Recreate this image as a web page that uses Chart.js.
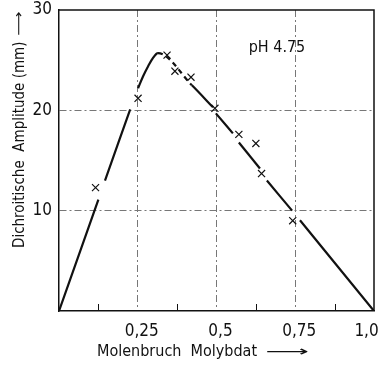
<!DOCTYPE html>
<html>
<head>
<meta charset="utf-8">
<script src="https://cdn.jsdelivr.net/npm/chart.js@4.4.1/dist/chart.umd.min.js"></script>
<style>
  html, body { margin: 0; padding: 0; background: #fff; }
  #wrap { width: 388px; height: 368px; }
</style>
</head>
<body>
<div id="wrap"><canvas id="c" width="388" height="368"></canvas></div>
<script>
// Measured points: mole fraction of molybdate vs. dichroic amplitude (mm)
const markerX = [0.116, 0.251, 0.343, 0.368, 0.419, 0.495, 0.571, 0.625, 0.643, 0.742];
const markerY = [12.3, 21.2, 25.5, 23.9, 23.3, 20.2, 17.6, 16.7, 13.7, 9.0];

// Drawn curve; a null value leaves a small break in the line beside a marker
const curveX = [0, 0.125, 0.135, 0.146, 0.226, 0.238, 0.251, 0.267, 0.283, 0.298, 0.314, 0.422, 0.489, 0.494, 0.498, 0.552, 0.561, 0.571, 0.638, 0.649, 0.660, 0.740, 0.752, 0.765, 1.0];
const curveY = [0, 11.1, null, 13.0, 20.1, null, 22.2, 23.4, 24.4, 25.2, 25.7, 22.5, 20.3, null, 19.7, 17.7, null, 16.8, 14.2, null, 13.0, 10.0, null, 9.05, 0];

// Axis ticks
const xTicks = [0.25, 0.5, 0.75, 1.0];
const xTickLabels = ['0,25', '0,5', '0,75', '1,0\u2002\u2002\u2002'];
const xMinorTicks = [0.125, 0.375, 0.625, 0.875];
const yTicks = [10, 20, 30];
const yTickLabels = ['10', '20', '30'];

const xTitle = 'Molenbruch  Molybdat';
const yTitle = 'Dichroitische  Amplitude (mm)';
const ARROW = '\u27F6';
const noteText = 'pH 4.75';

// style
const FONT = "'Liberation Sans Narrow', 'DejaVu Sans Condensed', 'Roboto Condensed', 'Liberation Sans', sans-serif";
const INK = '#111';
const GRID = '#777';
const dashedRange = [0.31, 0.43];

const curveData = curveX.map((x, i) => ({ x: x, y: curveY[i] }));
const markerData = markerX.map((x, i) => ({ x: x, y: markerY[i] }));

// text followed by a long, thin arrow
function titleWithArrow(ctx, text, size, gap, stretch) {
  ctx.font = size + 'px ' + FONT;
  ctx.textAlign = 'left';
  ctx.textBaseline = 'middle';
  ctx.fillText(text, 0, 0);
  const w = ctx.measureText(text).width;
  ctx.save();
  ctx.translate(w + gap, 0);
  ctx.scale(stretch, 1);
  ctx.font = (size - 2) + 'px ' + FONT;
  ctx.fillText(ARROW, 0, 0);
  ctx.restore();
}

const frame = {
  id: 'frame',
  afterDraw(chart) {
    const { ctx, chartArea: a, scales } = chart;
    ctx.save();
    // top and right edges of the frame
    ctx.strokeStyle = INK;
    ctx.lineWidth = 1.5;
    ctx.beginPath();
    ctx.moveTo(a.left, a.top);
    ctx.lineTo(a.right, a.top);
    ctx.lineTo(a.right, a.bottom);
    ctx.stroke();
    // short inner ticks between the labelled values
    ctx.lineWidth = 1;
    ctx.beginPath();
    xMinorTicks.forEach(v => {
      const px = Math.round(scales.x.getPixelForValue(v)) + 0.5;
      ctx.moveTo(px, a.bottom);
      ctx.lineTo(px, a.bottom - 7);
    });
    ctx.stroke();

    ctx.fillStyle = INK;
    // x title
    ctx.save();
    ctx.translate(97, 352);
    titleWithArrow(ctx, xTitle, 16, 8, 2.4);
    ctx.restore();
    // y title, rotated, reading upwards
    ctx.save();
    ctx.translate(20, 248);
    ctx.rotate(-Math.PI / 2);
    titleWithArrow(ctx, yTitle, 15, 6, 1.45);
    ctx.restore();
    // condition note
    ctx.font = '16px ' + FONT;
    ctx.textAlign = 'center';
    ctx.textBaseline = 'middle';
    ctx.fillText(noteText, scales.x.getPixelForValue(0.692), scales.y.getPixelForValue(26.2));
    ctx.restore();
  }
};

new Chart(document.getElementById('c'), {
  type: 'scatter',
  data: {
    datasets: [
      {
        data: curveData,
        showLine: true,
        spanGaps: false,
        borderColor: INK,
        borderWidth: 2.2,
        pointRadius: 0,
        cubicInterpolationMode: 'monotone',
        segment: {
          borderDash: c => (c.p0.parsed.x >= dashedRange[0] && c.p1.parsed.x <= dashedRange[1]) ? [5, 4] : undefined
        }
      },
      {
        data: markerData,
        showLine: false,
        pointStyle: 'crossRot',
        pointRadius: 5,
        pointBorderWidth: 1.2,
        borderColor: INK,
        backgroundColor: INK
      }
    ]
  },
  options: {
    responsive: false,
    animation: false,
    devicePixelRatio: 1,
    layout: { padding: { top: 10, right: 14, left: 0, bottom: 0 } },
    plugins: { legend: { display: false }, tooltip: { enabled: false } },
    scales: {
      x: {
        type: 'linear',
        min: 0, max: 1,
        afterBuildTicks: s => { s.ticks = xTicks.map(v => ({ value: v })); },
        afterFit: s => { s.height = 57; s.paddingLeft = 0; s.paddingRight = 0; },
        ticks: {
          autoSkip: false, maxRotation: 0, padding: 10, labelOffset: 4,
          color: INK,
          font: { family: FONT, size: 17 },
          callback: v => xTickLabels[xTicks.indexOf(v)]
        },
        grid: {
          drawTicks: false,
          lineWidth: 1,
          color: c => (c.tick && c.tick.value === 1) ? 'rgba(0,0,0,0)' : GRID
        },
        border: { display: true, color: INK, width: 1.5, dash: [7, 3, 2, 3] }
      },
      y: {
        type: 'linear',
        min: 0, max: 30,
        afterBuildTicks: s => { s.ticks = yTicks.map(v => ({ value: v })); },
        afterFit: s => { s.width = 59; s.paddingTop = 0; s.paddingBottom = 0; },
        ticks: {
          autoSkip: false, padding: 7,
          color: INK,
          font: { family: FONT, size: 17 },
          callback: v => yTickLabels[yTicks.indexOf(v)]
        },
        grid: {
          drawTicks: false,
          lineWidth: 1,
          color: c => (c.tick && c.tick.value === 30) ? 'rgba(0,0,0,0)' : GRID
        },
        border: { display: true, color: INK, width: 1.5, dash: [7, 3, 2, 3] }
      }
    }
  },
  plugins: [frame]
});
</script>
</body>
</html>
